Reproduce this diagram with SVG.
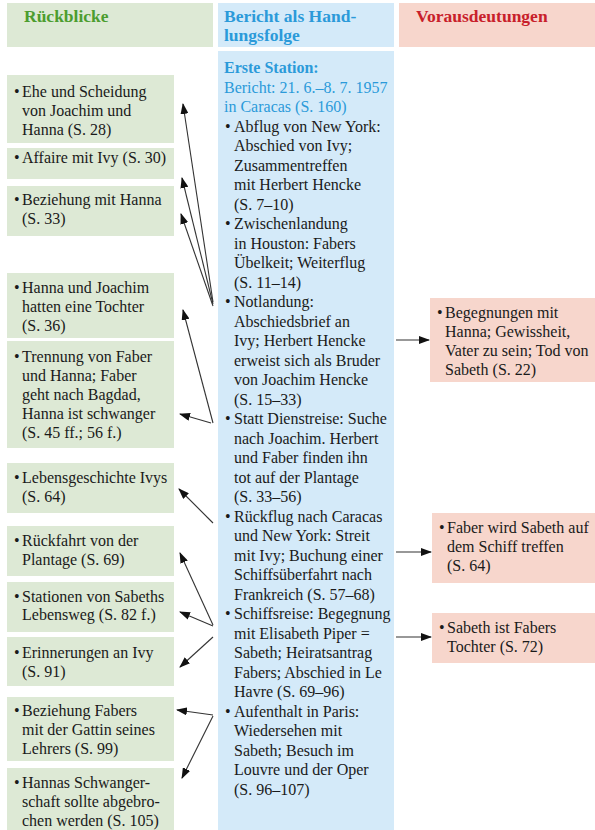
<svg xmlns="http://www.w3.org/2000/svg" width="595" height="830" viewBox="0 0 595 830">
<defs>
<style>
.t{font-family:"Liberation Serif","Times New Roman",serif;font-size:16px;fill:#1a1a1a}
.h{font-family:"Liberation Serif","Times New Roman",serif;font-size:17.5px;font-weight:bold}
.mb{font-family:"Liberation Serif","Times New Roman",serif;font-size:16px;fill:#2b9ad9}
.g{fill:#dde9d5}
.b{fill:#d4eaf9}
.p{fill:#f7d6cc}
.c{stroke:#333;stroke-width:1.1;fill:none;marker-end:url(#ah)}
</style>
<marker id="ah" markerUnits="userSpaceOnUse" markerWidth="11" markerHeight="8" refX="10" refY="4" orient="auto">
<path d="M0,0 L11,4 L0,8 z" fill="#111"/>
</marker>
</defs>
<rect width="595" height="830" fill="#fff"/>

<g id="hdr-rueckblicke">
<rect class="g" x="7" y="3" width="206" height="44"/>
<text class="h" x="24" y="22" fill="#4c9d2f">Rückblicke</text>
</g>
<g id="hdr-bericht">
<rect class="b" x="218" y="3" width="176" height="44"/>
<text class="h" x="224" y="22" fill="#2b9ad9">Bericht als Hand-</text>
<text class="h" x="224" y="41" fill="#2b9ad9">lungsfolge</text>
</g>
<g id="hdr-voraus">
<rect class="p" x="399" y="3" width="196" height="44"/>
<text class="h" x="416" y="22" fill="#c8202a">Vorausdeutungen</text>
</g>

<g id="bericht">
<rect class="b" x="218" y="51" width="176" height="779"/>
<text class="mb" font-weight="bold" x="224" y="73">Erste Station:</text>
<text class="mb" x="224" y="92.5">Bericht: 21. 6.–8. 7. 1957</text>
<text class="mb" x="224" y="112">in Caracas (S. 160)</text>
<text class="t" x="225" y="131.5">•</text><text class="t" x="234" y="131.5">Abflug von New York:</text>
<text class="t" x="234" y="151">Abschied von Ivy;</text>
<text class="t" x="234" y="170.5">Zusammentreffen</text>
<text class="t" x="234" y="190">mit Herbert Hencke</text>
<text class="t" x="234" y="209.5">(S. 7–10)</text>
<text class="t" x="225" y="229">•</text><text class="t" x="234" y="229">Zwischenlandung</text>
<text class="t" x="234" y="248.5">in Houston: Fabers</text>
<text class="t" x="234" y="268">Übelkeit; Weiterflug</text>
<text class="t" x="234" y="287.5">(S. 11–14)</text>
<text class="t" x="225" y="307">•</text><text class="t" x="234" y="307">Notlandung:</text>
<text class="t" x="234" y="326.5">Abschiedsbrief an</text>
<text class="t" x="234" y="346">Ivy; Herbert Hencke</text>
<text class="t" x="234" y="365.5">erweist sich als Bruder</text>
<text class="t" x="234" y="385">von Joachim Hencke</text>
<text class="t" x="234" y="404.5">(S. 15–33)</text>
<text class="t" x="225" y="424">•</text><text class="t" x="234" y="424">Statt Dienstreise: Suche</text>
<text class="t" x="234" y="443.5">nach Joachim. Herbert</text>
<text class="t" x="234" y="463">und Faber finden ihn</text>
<text class="t" x="234" y="482.5">tot auf der Plantage</text>
<text class="t" x="234" y="502">(S. 33–56)</text>
<text class="t" x="225" y="521.5">•</text><text class="t" x="234" y="521.5">Rückflug nach Caracas</text>
<text class="t" x="234" y="541">und New York: Streit</text>
<text class="t" x="234" y="560.5">mit Ivy; Buchung einer</text>
<text class="t" x="234" y="580">Schiffsüberfahrt nach</text>
<text class="t" x="234" y="599.5">Frankreich (S. 57–68)</text>
<text class="t" x="225" y="619">•</text><text class="t" x="234" y="619">Schiffsreise: Begegnung</text>
<text class="t" x="234" y="638.5">mit Elisabeth Piper =</text>
<text class="t" x="234" y="658">Sabeth; Heiratsantrag</text>
<text class="t" x="234" y="677.5">Fabers; Abschied in Le</text>
<text class="t" x="234" y="697">Havre (S. 69–96)</text>
<text class="t" x="225" y="716.5">•</text><text class="t" x="234" y="716.5">Aufenthalt in Paris:</text>
<text class="t" x="234" y="736">Wiedersehen mit</text>
<text class="t" x="234" y="755.5">Sabeth; Besuch im</text>
<text class="t" x="234" y="775">Louvre und der Oper</text>
<text class="t" x="234" y="794.5">(S. 96–107)</text>
</g>

<g id="r1"><rect class="g" x="7" y="75" width="167" height="68"/>
<text class="t" x="14" y="97">•</text><text class="t" x="22" y="97">Ehe und Scheidung</text>
<text class="t" x="22" y="116">von Joachim und</text>
<text class="t" x="22" y="135">Hanna (S. 28)</text></g>
<g id="r2"><rect class="g" x="7" y="148" width="167" height="31"/>
<text class="t" x="14" y="163">•</text><text class="t" x="22" y="163">Affaire mit Ivy (S. 30)</text></g>
<g id="r3"><rect class="g" x="7" y="186" width="167" height="50"/>
<text class="t" x="14" y="205">•</text><text class="t" x="22" y="205">Beziehung mit Hanna</text>
<text class="t" x="22" y="224">(S. 33)</text></g>
<g id="r4"><rect class="g" x="7" y="273" width="167" height="65"/>
<text class="t" x="14" y="293">•</text><text class="t" x="22" y="293">Hanna und Joachim</text>
<text class="t" x="22" y="312">hatten eine Tochter</text>
<text class="t" x="22" y="331">(S. 36)</text></g>
<g id="r5"><rect class="g" x="7" y="341" width="167" height="107"/>
<text class="t" x="14" y="362">•</text><text class="t" x="22" y="362">Trennung von Faber</text>
<text class="t" x="22" y="381">und Hanna; Faber</text>
<text class="t" x="22" y="400">geht nach Bagdad,</text>
<text class="t" x="22" y="419">Hanna ist schwanger</text>
<text class="t" x="22" y="438">(S. 45 ff.; 56 f.)</text></g>
<g id="r6"><rect class="g" x="7" y="463" width="167" height="50"/>
<text class="t" x="14" y="483">•</text><text class="t" x="22" y="483">Lebensgeschichte Ivys</text>
<text class="t" x="22" y="502">(S. 64)</text></g>
<g id="r7"><rect class="g" x="7" y="526" width="167" height="50"/>
<text class="t" x="14" y="546">•</text><text class="t" x="22" y="546">Rückfahrt von der</text>
<text class="t" x="22" y="565">Plantage (S. 69)</text></g>
<g id="r8"><rect class="g" x="7" y="582" width="167" height="50"/>
<text class="t" x="14" y="602">•</text><text class="t" x="22" y="602">Stationen von Sabeths</text>
<text class="t" x="22" y="620">Lebensweg (S. 82 f.)</text></g>
<g id="r9"><rect class="g" x="7" y="637" width="167" height="49"/>
<text class="t" x="14" y="658">•</text><text class="t" x="22" y="658">Erinnerungen an Ivy</text>
<text class="t" x="22" y="677">(S. 91)</text></g>
<g id="r10"><rect class="g" x="7" y="697" width="167" height="64"/>
<text class="t" x="14" y="716">•</text><text class="t" x="22" y="716">Beziehung Fabers</text>
<text class="t" x="22" y="735">mit der Gattin seines</text>
<text class="t" x="22" y="754">Lehrers (S. 99)</text></g>
<g id="r11"><rect class="g" x="7" y="768" width="167" height="62"/>
<text class="t" x="14" y="788">•</text><text class="t" x="22" y="788">Hannas Schwanger-</text>
<text class="t" x="22" y="807">schaft sollte abgebro-</text>
<text class="t" x="22" y="826">chen werden (S. 105)</text></g>

<g id="v1"><rect class="p" x="430" y="298" width="165" height="84"/>
<text class="t" x="437" y="318">•</text><text class="t" x="445" y="318">Begegnungen mit</text>
<text class="t" x="445" y="337">Hanna; Gewissheit,</text>
<text class="t" x="445" y="356">Vater zu sein; Tod von</text>
<text class="t" x="445" y="375">Sabeth (S. 22)</text></g>
<g id="v2"><rect class="p" x="432" y="513" width="163" height="70"/>
<text class="t" x="439" y="533">•</text><text class="t" x="447" y="533">Faber wird Sabeth auf</text>
<text class="t" x="447" y="552">dem Schiff treffen</text>
<text class="t" x="447" y="571">(S. 64)</text></g>
<g id="v3"><rect class="p" x="432" y="613" width="163" height="50"/>
<text class="t" x="439" y="633">•</text><text class="t" x="447" y="633">Sabeth ist Fabers</text>
<text class="t" x="447" y="652">Tochter (S. 72)</text></g>

<g id="connectors">
<path class="c" d="M213,302 L183,104"/>
<path class="c" d="M213,304 L182,178"/>
<path class="c" d="M213,306 L181,214"/>
<path class="c" d="M213,423 L183,310"/>
<path class="c" d="M211,423 L180,414"/>
<path class="c" d="M213,523 L179,489"/>
<path class="c" d="M213,625 L180,553"/>
<path class="c" d="M213,626 L180,612"/>
<path class="c" d="M213,637 L180,667"/>
<path class="c" d="M213,715 L177,710"/>
<path class="c" d="M213,716 L182,778"/>
<path class="c" d="M396,340 L429,340"/>
<path class="c" d="M396,552 L431,552"/>
<path class="c" d="M396,637 L431,637"/>
</g>
</svg>
